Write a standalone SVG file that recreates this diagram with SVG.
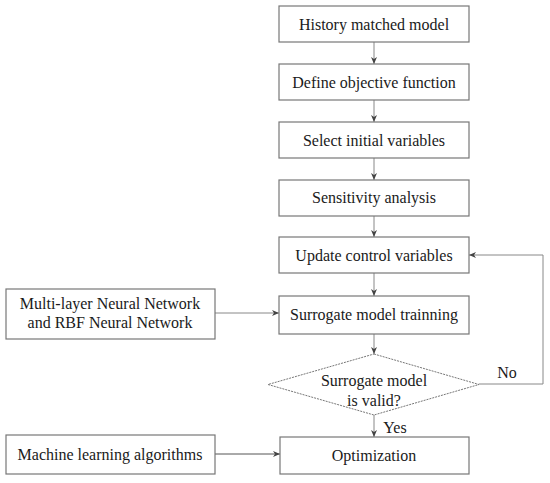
<svg xmlns="http://www.w3.org/2000/svg" width="550" height="483" viewBox="0 0 550 483">
<style>
.box{fill:#fff;stroke:#777;stroke-width:1.2}
.dia{fill:#fff;stroke:#777;stroke-width:1;stroke-dasharray:2 1}
text{font-family:"Liberation Serif","Tinos","Times New Roman","Nimbus Roman","Nimbus Roman No9 L","Noto Serif","DejaVu Serif","FreeSerif",serif;font-size:16px;fill:#1a1a1a;text-anchor:middle}
.ln{fill:none;stroke:#888;stroke-width:1}
</style>
<defs>
<marker id="ah" markerWidth="8" markerHeight="6" refX="7" refY="3" orient="auto" markerUnits="userSpaceOnUse">
<path d="M0,0 L7,3 L0,6 L2,3 Z" fill="#444"/>
</marker>
</defs>
<rect width="550" height="483" fill="#fff"/>
<g id="connectors">
<line class="ln" x1="374" y1="42" x2="374" y2="64" marker-end="url(#ah)"/>
<line class="ln" x1="374" y1="100" x2="374" y2="122" marker-end="url(#ah)"/>
<line class="ln" x1="374" y1="158" x2="374" y2="180" marker-end="url(#ah)"/>
<line class="ln" x1="374" y1="216" x2="374" y2="237" marker-end="url(#ah)"/>
<line class="ln" x1="374" y1="273" x2="374" y2="296" marker-end="url(#ah)"/>
<line class="ln" x1="374" y1="334" x2="374" y2="354" marker-end="url(#ah)"/>
<line class="ln" x1="374" y1="415" x2="374" y2="437" marker-end="url(#ah)"/>
<polyline class="ln" points="479,384 543,384 543,255 469,255" marker-end="url(#ah)"/>
<line class="ln" x1="215" y1="313" x2="279" y2="313" marker-end="url(#ah)"/>
<line class="ln" x1="215" y1="454" x2="280" y2="454" marker-end="url(#ah)" style="stroke:#555"/>
<text x="507" y="378">No</text>
<text x="395" y="433">Yes</text>
</g>
<g id="n1"><rect class="box" x="279" y="6" width="190" height="36"/><text x="374" y="30">History matched model</text></g>
<g id="n2"><rect class="box" x="279" y="64" width="190" height="36"/><text x="374" y="88">Define objective function</text></g>
<g id="n3"><rect class="box" x="279" y="122" width="190" height="36"/><text x="374" y="146">Select initial variables</text></g>
<g id="n4"><rect class="box" x="279" y="180" width="190" height="36"/><text x="374" y="203">Sensitivity analysis</text></g>
<g id="n5"><rect class="box" x="279" y="237" width="190" height="36"/><text x="374" y="261">Update control variables</text></g>
<g id="n6"><rect class="box" x="279" y="296" width="190" height="38"/><text x="374" y="320">Surrogate model trainning</text></g>
<g id="n7"><polygon class="dia" points="374,354 479,384.5 374,415 268,384.5"/><text x="374" y="386">Surrogate model</text><text x="374" y="406">is valid?</text></g>
<g id="n8"><rect class="box" x="280" y="437" width="189" height="37"/><text x="374" y="461">Optimization</text></g>
<g id="n9"><rect class="box" x="6" y="289" width="209" height="50"/><text x="110" y="309">Multi-layer Neural Network</text><text x="110" y="328">and RBF Neural Network</text></g>
<g id="n10"><rect class="box" x="6" y="435" width="209" height="39"/><text x="110" y="460">Machine learning algorithms</text></g>
</svg>
